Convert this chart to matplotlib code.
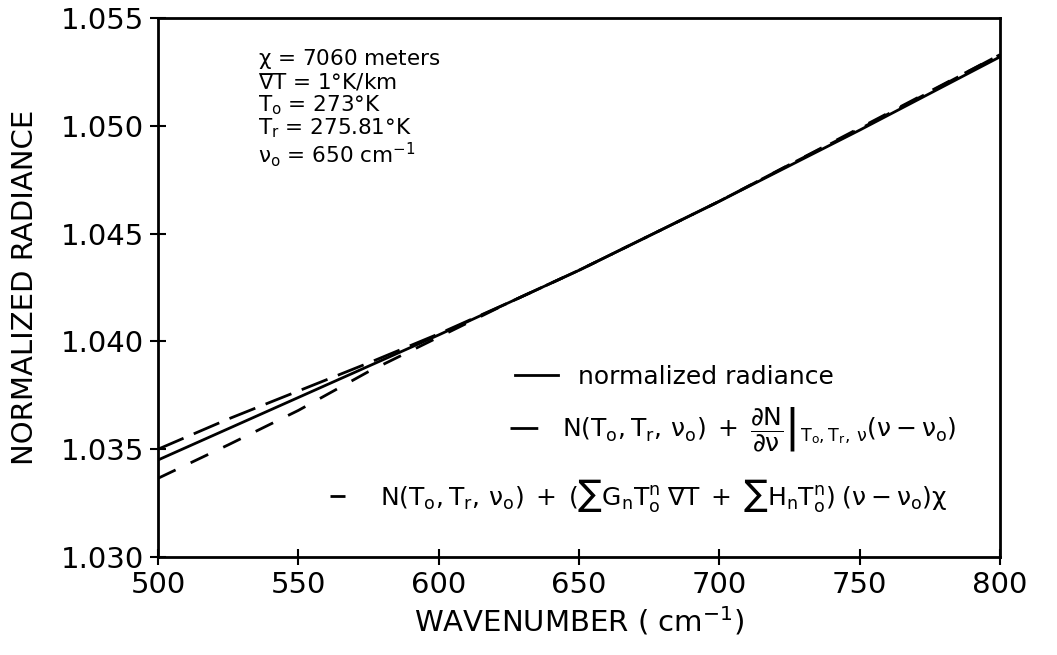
import numpy as np
import matplotlib
matplotlib.use('Agg')
import matplotlib.pyplot as plt

plt.rcParams['font.family'] = ['DejaVu Sans']
plt.rcParams['mathtext.fontset'] = 'dejavusans'
plt.rcParams['mathtext.default'] = 'regular'

# data
wavenumber = [500, 525, 550, 575, 600, 625, 650, 675, 700, 725, 750, 775, 800]
radiance = [1.0345, 1.03595, 1.0374, 1.03885, 1.0403, 1.0418, 1.0433,
            1.0449, 1.0465, 1.04815, 1.0498, 1.0515, 1.0532]
taylor_approx = [1.0350, 1.0364, 1.0377, 1.0390, 1.04035, 1.0418, 1.0433,
                 1.0449, 1.0465, 1.0482, 1.04985, 1.05157, 1.0533]
series_approx = [1.03365, 1.0352, 1.0368, 1.0386, 1.0402, 1.0418, 1.0433,
                 1.0449, 1.0465, 1.0482, 1.0499, 1.0516, 1.0533]

xticks = [500, 550, 600, 650, 700, 750, 800]
yticks = [1.030, 1.035, 1.040, 1.045, 1.050, 1.055]

params = [r'$\chi$ = 7060 meters',
          r'$\nabla$T = 1°K/km',
          r'T$_o$ = 273°K',
          r'T$_r$ = 275.81°K',
          r'$\nu_o$ = 650 cm$^{-1}$']

lab1 = 'normalized radiance'
lab2 = (r'$N(T_o,T_r,\,\nu_o)\;+\;\left.\dfrac{\partial N}{\partial \nu}\right|_{T_o,T_r,\,\nu}'
        r'(\nu-\nu_o)$')
lab3 = (r'$N(T_o,T_r,\,\nu_o)\;+\;(\sum G_nT_o^n\;\nabla T\;+\;\sum H_nT_o^n)\;'
        r'(\nu-\nu_o)\chi$')

fig = plt.figure(figsize=(10.57, 6.55), dpi=100)
ax = fig.add_axes([0.1495, 0.1496, 0.7966, 0.8229])

l1, = ax.plot(wavenumber, radiance, color='black', lw=2)
l2, = ax.plot(wavenumber, taylor_approx, color='black', lw=2, dashes=(10, 4))
l3, = ax.plot(wavenumber, series_approx, color='black', lw=2, dashes=(7, 6))

ax.set_xlim(500, 800)
ax.set_ylim(1.030, 1.055)
ax.set_xticks(xticks)
ax.set_yticks(yticks)
ax.set_yticklabels(['%.3f' % v for v in yticks])
ax.tick_params(direction='inout', length=12, width=1.5, labelsize=21, pad=4)
for s in ax.spines.values():
    s.set_linewidth(2)

ax.set_xlabel(r'WAVENUMBER ( cm$^{-1}$)', fontsize=21, labelpad=4)
ax.set_ylabel('NORMALIZED RADIANCE', fontsize=21, labelpad=16)

ys = [0.924, 0.881, 0.838, 0.795, 0.746]
for txt, y in zip(params, ys):
    ax.text(0.119, y, txt, transform=ax.transAxes, fontsize=15.5, va='center')

leg1 = ax.legend([l1], [lab1], loc='center left', bbox_to_anchor=(0.424, 0.334),
                 frameon=False, fontsize=18, handlelength=1.7, borderpad=0,
                 borderaxespad=0, handletextpad=0.8)
ax.add_artist(leg1)
leg2 = ax.legend([l2], [lab2], loc='center left', bbox_to_anchor=(0.418, 0.236),
                 frameon=False, fontsize=18, handlelength=1.4, borderpad=0,
                 borderaxespad=0, handletextpad=0.7)
ax.add_artist(leg2)
leg3 = ax.legend([l3], [lab3], loc='center left', bbox_to_anchor=(0.204, 0.115),
                 frameon=False, fontsize=18, handlelength=0.6, borderpad=0,
                 borderaxespad=0, handletextpad=1.4)

fig.savefig('out.png', dpi=100)
